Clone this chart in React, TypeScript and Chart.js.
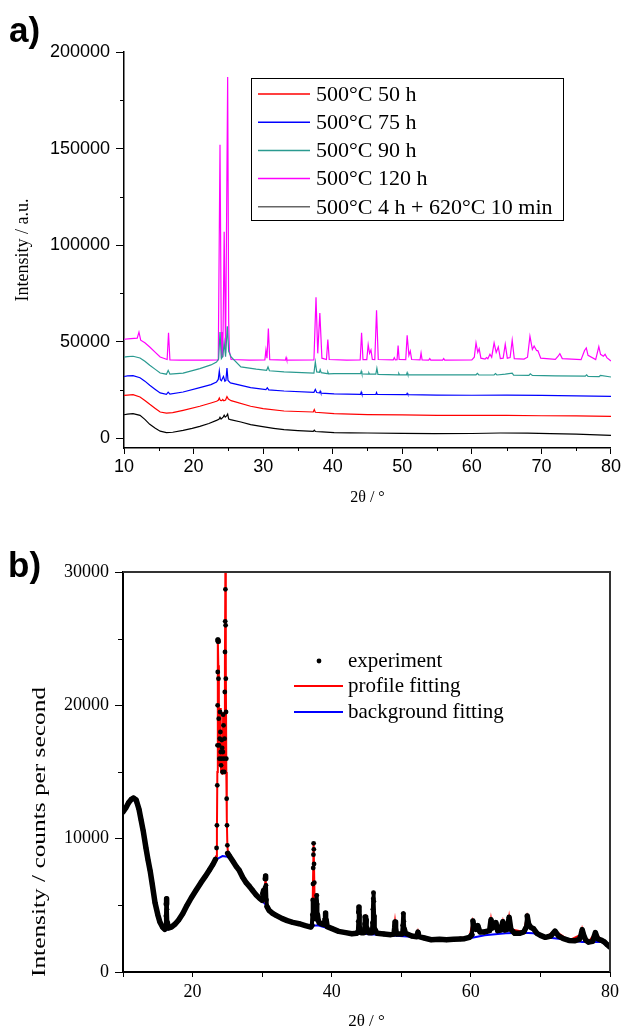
import React, { useEffect, useRef } from "react";
import { Chart, registerables } from "chart.js";
Chart.register(...registerables);

type P = [number, number];

// ---------- Panel a) ----------
const A_LABELS = ["500°C 50 h", "500°C 75 h", "500°C 90 h", "500°C 120 h", "500°C 4 h + 620°C 10 min"];
const A_COLORS = ["#ff0000", "#0000ff", "#2a9a90", "#ff00ff", "#000000"];
const A_Y_TICKS = [0, 50000, 100000, 150000, 200000];
const A_X_MINOR = [15, 25, 35, 45, 55, 65, 75];
const A_Y_MINOR = [25000, 75000, 125000, 175000];

const A_50H: P[] = [[10,22200],[10.5,22400],[11.3,22600],[12.3,21400],[13.0,19600],[13.7,17600],[14.5,15500],[15.2,13640],[16.1,13100],[17.0,13300],[18.5,14500],[20.9,16600],[22.5,18300],[23.3,19200],[23.55,19700],[23.7,20900],[23.85,19600],[24.05,19500],[24.2,20100],[24.35,19400],[24.6,19800],[24.8,21600],[25.0,20300],[25.4,19500],[28.2,16600],[30.0,15400],[33.0,14150],[35.0,13900],[37.2,13640],[37.35,14900],[37.5,13500],[40.2,12800],[45.0,12300],[50.0,12100],[55.0,11900],[60.0,11900],[65.0,11900],[70.0,11700],[75.0,11600],[80.0,11400]];

const A_75H: P[] = [[10,32000],[10.5,32300],[11.3,32500],[12.3,31400],[13.0,29600],[13.7,27450],[14.5,25300],[15.2,23500],[16.1,22800],[16.35,23900],[16.6,22900],[18.5,24000],[20.9,26250],[22.5,27800],[23.3,29200],[23.55,30500],[23.7,34900],[23.85,30300],[24.0,29800],[24.3,32100],[24.5,29600],[24.65,30000],[24.8,36400],[24.95,30000],[25.3,28700],[28.2,26250],[30.4,25200],[30.6,26200],[30.8,25100],[33.0,24500],[37.3,23800],[37.5,25300],[37.7,23700],[38.1,23500],[38.2,24400],[38.3,23400],[40.2,23000],[44.0,22800],[44.1,23900],[44.2,22800],[46.2,22700],[46.3,23700],[46.4,22700],[50.0,22600],[50.6,22600],[50.7,23300],[50.8,22600],[55.0,22400],[60.0,22300],[65.0,22400],[70.0,22200],[75.0,22000],[80.0,21700]];

const A_90H: P[] = [[10,42000],[10.5,42300],[11.3,42500],[12.3,41600],[13.0,39900],[13.7,37800],[14.5,35700],[15.2,33800],[16.1,33200],[16.35,35200],[16.6,33200],[18.5,33800],[20.9,36100],[22.5,38000],[23.3,39500],[23.6,41000],[23.8,55000],[24.0,41300],[24.2,42500],[24.4,49400],[24.6,42300],[24.85,58000],[25.05,45000],[25.4,42100],[26.8,36950],[29.0,35800],[30.5,35200],[30.7,36950],[30.9,35000],[33.0,34400],[37.3,33800],[37.5,39500],[37.7,34400],[38.1,34200],[38.2,35500],[38.35,34000],[39.2,33500],[39.3,34300],[39.4,33400],[40.2,33500],[44.0,33500],[44.1,34700],[44.2,33300],[45.1,33200],[45.2,33900],[45.3,33200],[46.2,33200],[46.35,36300],[46.5,33100],[49.4,32900],[49.5,33600],[49.6,32900],[50.6,32900],[50.7,34000],[50.8,32900],[55.0,32900],[60.6,32900],[60.8,33600],[61.0,32800],[63.2,32800],[63.4,33500],[63.6,32800],[64.8,33200],[65.8,33700],[66.0,32700],[68.2,32600],[68.4,33400],[68.7,32600],[72.0,32300],[76.3,32200],[76.5,32900],[76.7,32100],[78.3,32000],[78.5,32600],[80.0,31750]];

const A_120H: P[] = [[10,51300],[11,51600],[11.9,51900],[12.15,55000],[12.4,50800],[13.0,49500],[13.7,47300],[14.5,44500],[15.2,42100],[16.2,40800],[16.4,54700],[16.6,40600],[18,40500],[20,40500],[22,40500],[23.55,40600],[23.8,152000],[24.0,41500],[24.1,55000],[24.2,42000],[24.4,107000],[24.6,44000],[24.9,187000],[25.05,60000],[25.15,45000],[25.4,40800],[28,40500],[30.25,40600],[30.4,45700],[30.55,41500],[30.75,56800],[30.95,40700],[33.2,40500],[33.3,41800],[33.4,40500],[37.3,40600],[37.6,73000],[37.85,44000],[38.15,64900],[38.45,41500],[39.1,40800],[39.3,51100],[39.5,40800],[42,40500],[43.95,40600],[44.15,54700],[44.35,40800],[44.9,40800],[45.1,48500],[45.3,44000],[45.5,45700],[45.7,40800],[46.05,40700],[46.3,66300],[46.55,40800],[48.7,40600],[48.85,41800],[49.0,40600],[49.25,40700],[49.4,48000],[49.55,40900],[50.5,40800],[50.7,53400],[50.95,43000],[51.15,45200],[51.35,40800],[52.55,40600],[52.7,44200],[52.85,40600],[53.8,40500],[53.95,41300],[54.1,40500],[55.8,40500],[55.95,41300],[56.1,40500],[60.0,40600],[60.35,42000],[60.6,49400],[60.85,44500],[61.05,46400],[61.3,41500],[61.9,41000],[62.1,41800],[62.3,41200],[62.6,43500],[62.85,42000],[63.2,49400],[63.5,44500],[63.8,47300],[64.1,41300],[64.5,41500],[64.8,48700],[65.1,41500],[65.5,41800],[65.8,50800],[66.1,41300],[67.5,41000],[68.0,42000],[68.35,52800],[68.7,46000],[68.95,47800],[69.3,45500],[69.5,45300],[69.9,41500],[72.0,40900],[72.4,42500],[72.65,43800],[73.0,41300],[75.7,40700],[76.2,45500],[76.45,46800],[76.7,43000],[77.8,40800],[78.25,47500],[78.5,43500],[78.9,42500],[79.15,43500],[79.4,41800],[80.0,40000]];

const A_620C: P[] = [[10,12200],[10.5,12500],[11.3,12800],[12.3,11900],[13.0,9800],[13.7,7250],[14.5,5200],[15.2,3700],[16.1,3000],[17.0,3150],[18.5,4140],[19.8,5200],[20.9,6200],[22.2,7700],[23.3,9300],[23.65,9900],[23.8,10900],[23.95,10000],[24.25,11000],[24.4,12000],[24.55,11000],[24.75,11600],[24.9,12500],[25.05,10000],[25.3,9700],[26.8,8460],[28.2,7100],[29.7,6200],[31.5,5200],[33.0,4480],[35.0,4000],[37.2,3600],[37.35,4200],[37.5,3550],[38.5,3300],[40.2,2940],[42.5,2850],[45.0,2760],[50.0,2600],[54.6,2420],[60.0,2500],[64.1,2760],[68.0,2700],[71.3,2420],[75.0,2200],[80.0,1550]];

// ---------- Panel b) ----------
const B_LABELS = ["experiment", "profile fitting", "background fitting"];
const B_Y_MINOR = [5000, 15000, 25000];

const B_EXP: P[] = [[10.0,12000],[10.4,12300],[10.8,12700],[11.2,12950],[11.5,13050],[11.9,12900],[12.3,12200],[12.6,11400],[12.9,10600],[13.3,9300],[13.6,8400],[13.9,7600],[14.2,6600],[14.6,5200],[15.0,4300],[15.3,3750],[15.7,3350],[16.0,3200],
[16.1,3300],[16.17,4200],[16.22,5100],[16.27,5500],[16.32,4700],[16.38,3700],[16.5,3300],
[16.95,3370],[17.5,3600],[18.0,3900],[18.6,4380],[19.2,5000],[19.8,5550],[20.5,6130],[21.2,6700],[21.8,7150],[22.4,7630],[22.9,8050],[23.3,8450],
[23.45,9300],[23.5,11000],[23.55,14000],[23.58,17000],[23.6,20000],[23.62,22500],[23.65,24900],[23.68,24800],[23.72,22000],[23.76,19000],[23.8,17000],[23.85,16000],[23.9,17500],[23.95,19500],[24.0,18000],[24.05,16500],[24.1,15500],[24.15,16000],[24.2,17400],[24.25,16800],[24.3,15000],[24.35,16500],[24.4,19300],[24.45,18500],[24.5,16000],[24.55,15000],[24.6,17500],[24.63,21000],[24.66,24000],[24.69,26300],[24.72,28700],[24.75,26000],[24.78,22000],[24.81,19500],[24.85,16000],[24.9,13000],[24.95,11000],[25.0,9500],[25.05,8900],
[25.3,8700],[25.8,8300],[26.3,7900],[26.7,7630],[27.2,7100],[27.7,6700],[28.2,6400],[28.6,6130],[29.1,5800],[29.6,5550],[30.0,5380],
[30.1,5900],[30.2,6100],[30.3,5600],[30.4,6300],[30.45,7000],[30.5,7200],[30.55,6500],[30.62,5400],[30.7,4900],
[31.0,4620],[31.5,4400],[32.0,4250],[32.9,4000],[33.6,3850],[34.4,3720],[35.3,3620],[36.2,3480],[37.0,3370],
[37.15,3500],[37.22,4300],[37.27,5400],[37.31,6600],[37.34,7800],[37.37,8800],[37.4,9650],[37.43,9200],[37.46,8100],[37.5,6700],[37.55,5200],[37.6,4400],[37.68,4000],[37.75,4600],[37.8,5300],[37.85,5750],[37.9,5100],[37.95,4300],[38.05,3900],[38.2,3700],[38.6,3600],
[38.95,3550],[39.05,4000],[39.12,4420],[39.2,3900],[39.35,3400],
[40.05,3250],[41.0,3050],[42.0,2950],[42.9,2870],[43.6,2900],
[43.75,3000],[43.82,3800],[43.88,4500],[43.92,4870],[43.97,4300],[44.05,3300],[44.2,2950],
[44.6,2950],[44.72,3600],[44.8,4120],[44.88,3700],[44.95,3900],[45.05,3300],[45.3,2950],
[45.75,2950],[45.85,3700],[45.92,4700],[45.97,5500],[46.0,5950],[46.05,5300],[46.1,4200],[46.2,3200],[46.5,2900],
[47.5,2850],[48.5,2800],
[48.95,2850],[49.05,3300],[49.1,3750],[49.18,3300],[49.3,2850],
[50.1,2850],[50.2,3500],[50.28,4380],[50.36,3800],[50.45,3200],[50.6,2900],
[51.5,2700],[52.25,2650],[52.4,2990],[52.55,2650],[53.3,2550],[54.3,2420],[55.5,2450],[56.5,2420],[57.5,2450],[58.5,2480],[59.1,2500],[59.8,2600],
[60.15,2800],[60.3,3820],[60.45,3300],[60.7,3200],[61.0,3480],[61.3,3000],[61.9,3000],
[62.7,3100],[62.9,3920],[63.1,3300],[63.6,3700],[63.85,3100],[64.3,3150],[64.6,3770],[64.85,3150],[65.25,3200],[65.5,4100],[65.75,3200],[66.3,2900],[67.0,2900],[67.6,3000],
[67.9,3300],[68.1,4200],[68.3,3600],[68.6,3350],[69.0,3250],[69.5,2900],[70.0,2750],[70.7,2600],[71.5,2700],[72.1,3070],[72.6,2700],[73.3,2500],[74.1,2370],[75.0,2350],[75.6,2450],
[75.85,2800],[76.0,3170],[76.2,2800],[76.5,2400],[76.9,2240],[77.5,2300],[77.9,2950],[78.2,2500],[78.8,2370],[79.2,2250],[79.6,2050],[80.0,1870]];

const B_FIT: P[] = [[10,12000],[11.5,13050],[12.3,12200],[13.3,9300],[14.6,5200],[15.3,3750],[16.0,3200],[16.12,3400],[16.22,5200],[16.27,5500],[16.34,4300],[16.45,3300],[17.5,3600],[19.2,5000],[21.2,6700],[22.9,8050],[23.4,8700],[23.5,10500],[23.56,15000],[23.61,21000],[23.65,25000],[23.7,23000],[23.78,17000],[23.85,15500],[23.95,19800],[24.05,15500],[24.12,15000],[24.2,17600],[24.28,14800],[24.4,19500],[24.5,15500],[24.58,15000],[24.65,23000],[24.72,31000],[24.78,23000],[24.85,15000],[24.92,11500],[25.0,9500],[25.1,8900],[26.7,7630],[28.6,6130],[30.0,5380],[30.12,5950],[30.25,5600],[30.4,6300],[30.5,7250],[30.6,5700],[30.75,4800],[31.5,4400],[33.6,3850],[36.2,3480],[37.1,3400],[37.25,4800],[37.4,9750],[37.55,5000],[37.7,4100],[37.85,5850],[38.0,4100],[38.6,3600],[39.0,3550],[39.12,4450],[39.25,3500],[40.05,3250],[42.9,2870],[43.75,3000],[43.92,4900],[44.1,3000],[44.6,2950],[44.8,4150],[44.88,3700],[44.95,3900],[45.15,3000],[45.75,2950],[46.0,6000],[46.25,2950],[48.9,2800],[49.1,3780],[49.3,2850],[50.1,2850],[50.28,4400],[50.5,3000],[52.25,2650],[52.4,3000],[52.55,2650],[54.3,2420],[59.8,2600],[60.3,3850],[60.7,3200],[61.0,3500],[61.3,3000],[62.7,3100],[62.9,3950],[63.1,3300],[63.6,3700],[63.85,3100],[64.3,3150],[64.6,3800],[64.85,3150],[65.25,3200],[65.5,4100],[65.75,3200],[67.6,3000],[68.1,4200],[68.6,3350],[69.5,2900],[70.7,2600],[72.1,3070],[74.1,2370],[75.85,2800],[76.0,3200],[76.2,2800],[76.9,2240],[77.9,2950],[78.8,2370],[80,1870]];

const B_BG: P[] = [[10,12000],[10.8,12700],[11.5,13000],[12.3,12200],[12.9,10600],[13.6,8400],[14.2,6600],[15.0,4300],[15.7,3300],[16.2,3150],[17.0,3350],[18.0,3900],[19.2,5000],[20.5,6130],[21.8,7150],[22.9,8050],[23.6,8500],[24.3,8700],[25.0,8650],[25.8,8300],[26.7,7630],[27.7,6700],[28.6,6130],[29.6,5550],[30.5,5050],[31.0,4600],[32.0,4250],[33.6,3850],[35.3,3620],[37.0,3450],[38.0,3500],[39.0,3350],[40.05,3200],[42.9,2870],[45.0,2850],[48.0,2750],[51.5,2650],[54.3,2400],[57.5,2430],[60.0,2550],[62.0,2750],[65.0,2900],[67.5,2950],[69.0,2900],[70.7,2600],[73.3,2450],[76.0,2250],[78.8,2250],[80.0,1800]];

const toXY = (p: P[]) => p.map(([x, y]) => ({ x, y }));

const SANS = '"Liberation Sans", Arial, sans-serif';
const SERIF = '"Liberation Serif", "Times New Roman", serif';

function ChartA() {
  const ref = useRef<HTMLCanvasElement>(null);
  useEffect(() => {
    const series = [A_50H, A_75H, A_90H, A_120H, A_620C];
    const deco = {
      id: "decoA",
      afterDraw(chart: any) {
        const { ctx, chartArea: ca, scales } = chart;
        ctx.save();
        ctx.strokeStyle = "#000";
        ctx.lineWidth = 1;
        ctx.beginPath();
        A_Y_MINOR.forEach((v) => {
          const y = Math.round(scales.y.getPixelForValue(v)) + 0.5;
          ctx.moveTo(ca.left - 4, y);
          ctx.lineTo(ca.left, y);
        });
        A_X_MINOR.forEach((v) => {
          const x = Math.round(scales.x.getPixelForValue(v)) + 0.5;
          ctx.moveTo(x, ca.bottom);
          ctx.lineTo(x, ca.bottom + 3);
        });
        ctx.stroke();
        // legend
        ctx.fillStyle = "#fff";
        ctx.fillRect(251, 78, 312, 142);
        ctx.strokeStyle = "#000";
        ctx.lineWidth = 1;
        ctx.strokeRect(251.5, 78.5, 312, 142);
        ctx.font = `22px ${SERIF}`;
        ctx.textBaseline = "middle";
        A_LABELS.forEach((t, i) => {
          const y = 94 + i * 28.2;
          ctx.strokeStyle = i === 4 ? "#666" : A_COLORS[i];
          ctx.lineWidth = 1.5;
          ctx.beginPath();
          ctx.moveTo(258, y);
          ctx.lineTo(310, y);
          ctx.stroke();
          ctx.fillStyle = "#000";
          ctx.fillText(t, 316, y + 1);
        });
        ctx.font = `bold 35px ${SANS}`;
        ctx.textBaseline = "alphabetic";
        ctx.fillStyle = "#000";
        ctx.fillText("a)", 9, 42);
        ctx.restore();
      },
    };
    const chart = new Chart(ref.current!, {
      type: "line",
      data: {
        datasets: series.map((s, i) => ({
          label: A_LABELS[i],
          data: toXY(s),
          borderColor: A_COLORS[i],
          borderWidth: 1.2,
          pointRadius: 0,
        })),
      },
      options: {
        animation: false,
        responsive: false,
        events: [],
        layout: { padding: { top: 52, right: 11, left: 0, bottom: 0 } },
        plugins: { legend: { display: false }, tooltip: { enabled: false } },
        scales: {
          x: {
            type: "linear",
            min: 10,
            max: 80,
            afterFit: (s: any) => { s.height = 72; },
            ticks: { stepSize: 10, autoSkip: false, maxRotation: 0, padding: 2, color: "#000", font: { family: SANS, size: 18 }, callback: (v: any) => String(v) },
            grid: { drawOnChartArea: false, tickLength: 6, tickColor: "#000", tickWidth: 1 },
            border: { color: "#000", width: 1.5 },
            title: { display: true, text: "2θ / °", color: "#000", font: { family: SERIF, size: 16 }, padding: { top: 0, bottom: 13 } },
          },
          y: {
            type: "linear",
            min: -5000,
            max: 200000,
            afterFit: (s: any) => { s.width = 124; },
            afterBuildTicks: (s: any) => { s.ticks = A_Y_TICKS.map((value) => ({ value })); },
            ticks: { autoSkip: false, padding: 6, color: "#000", font: { family: SANS, size: 18 }, callback: (v: any) => String(v) },
            grid: { drawOnChartArea: false, tickLength: 8, tickColor: "#000", tickWidth: 1 },
            border: { color: "#000", width: 1.5 },
            title: { display: true, text: "Intensity / a.u.", color: "#000", font: { family: SERIF, size: 18 }, padding: { top: 12, bottom: 0 } },
          },
        },
      } as any,
      plugins: [deco],
    });
    return () => chart.destroy();
  }, []);
  return <canvas ref={ref} width={623} height={520} style={{ position: "absolute", left: 0, top: 0 }} />;
}

function ChartB() {
  const ref = useRef<HTMLCanvasElement>(null);
  useEffect(() => {
    const deco = {
      id: "decoB",
      afterDraw(chart: any) {
        const { ctx, chartArea: ca, scales } = chart;
        ctx.save();
        // frame top/right
        ctx.strokeStyle = "#333";
        ctx.lineWidth = 2;
        ctx.beginPath();
        ctx.moveTo(ca.left, ca.top);
        ctx.lineTo(ca.right, ca.top);
        ctx.lineTo(ca.right, ca.bottom);
        ctx.stroke();
        // minor ticks
        ctx.strokeStyle = "#000";
        ctx.lineWidth = 1;
        ctx.beginPath();
        B_Y_MINOR.forEach((v) => {
          const y = Math.round(scales.y.getPixelForValue(v)) + 0.5;
          ctx.moveTo(ca.left - 5, y);
          ctx.lineTo(ca.left, y);
        });
        ctx.stroke();
        // legend
        ctx.font = `21px ${SERIF}`;
        ctx.textBaseline = "middle";
        ctx.fillStyle = "#000";
        ctx.beginPath();
        ctx.arc(319, 141, 2.4, 0, Math.PI * 2);
        ctx.fill();
        ctx.lineWidth = 2;
        ctx.strokeStyle = "#ff0000";
        ctx.beginPath();
        ctx.moveTo(294, 166);
        ctx.lineTo(343, 166);
        ctx.stroke();
        ctx.strokeStyle = "#0000ff";
        ctx.beginPath();
        ctx.moveTo(294, 192);
        ctx.lineTo(343, 192);
        ctx.stroke();
        B_LABELS.forEach((t, i) => ctx.fillText(t, 348, 141 + i * 25.6));
        // y title (slightly stretched like the reference)
        const yt = "Intensity / counts per second";
        ctx.font = `19px ${SERIF}`;
        const w = ctx.measureText(yt).width;
        ctx.translate(40, 312);
        ctx.rotate(-Math.PI / 2);
        ctx.scale(290 / w, 1);
        ctx.textAlign = "center";
        ctx.fillText(yt, 0, 0);
        ctx.setTransform(1, 0, 0, 1, 0, 0);
        ctx.textAlign = "left";
        ctx.textBaseline = "alphabetic";
        ctx.font = `bold 35px ${SANS}`;
        ctx.fillText("b)", 8, 57);
        ctx.restore();
      },
    };
    const chart = new Chart(ref.current!, {
      type: "line",
      data: {
        datasets: [
          {
            label: B_LABELS[0],
            data: toXY(B_EXP),
            borderColor: "#000",
            borderWidth: 5.5,
            borderJoinStyle: "round",
            borderCapStyle: "round",
            pointRadius: 2.4,
            pointBorderWidth: 0,
            pointBackgroundColor: "#000",
            segment: {
              borderColor: (c: any) => {
                const dx = Math.abs(c.p1.x - c.p0.x);
                const dy = Math.abs(c.p1.y - c.p0.y);
                const high = Math.max(c.p0.parsed.y, c.p1.parsed.y) > 6500;
                return high && dy > 6 && dy > 8 * dx ? "rgba(0,0,0,0)" : "#000";
              },
              borderWidth: (c: any) => {
                const dx = Math.abs(c.p1.x - c.p0.x);
                const dy = Math.abs(c.p1.y - c.p0.y);
                return dy > 6 && dy > 8 * dx ? 4 : 5.5;
              },
            },
          },
          { label: B_LABELS[1], data: toXY(B_FIT), borderColor: "#ff0000", borderWidth: 2, pointRadius: 0 },
          { label: B_LABELS[2], data: toXY(B_BG), borderColor: "#0000ff", borderWidth: 2, pointRadius: 0 },
        ],
      },
      options: {
        animation: false,
        responsive: false,
        events: [],
        layout: { padding: { top: 52, right: 11, left: 0, bottom: 0 } },
        plugins: { legend: { display: false }, tooltip: { enabled: false } },
        scales: {
          x: {
            type: "linear",
            min: 10,
            max: 80,
            afterFit: (s: any) => { s.height = 60; },
            ticks: { stepSize: 10, autoSkip: false, maxRotation: 0, padding: 4, color: "#000", font: { family: SERIF, size: 18 }, callback: (v: any) => (v % 20 === 0 ? String(v) : "") },
            grid: { drawOnChartArea: false, tickLength: 5, tickColor: "#000", tickWidth: 1 },
            border: { color: "#000", width: 2 },
            title: { display: true, text: "2θ / °", color: "#000", font: { family: SERIF, size: 17 }, padding: { top: 0, bottom: 0 } },
          },
          y: {
            type: "linear",
            min: 0,
            max: 30000,
            afterFit: (s: any) => { s.width = 123; },
            ticks: { stepSize: 10000, autoSkip: false, padding: 6, color: "#000", font: { family: SERIF, size: 18 }, callback: (v: any) => String(v) },
            grid: { drawOnChartArea: false, tickLength: 8, tickColor: "#000", tickWidth: 1 },
            border: { color: "#000", width: 2 },
          },
        },
      } as any,
      plugins: [deco],
    });
    return () => chart.destroy();
  }, []);
  return <canvas ref={ref} width={623} height={512} style={{ position: "absolute", left: 0, top: 520 }} />;
}

export default function App() {
  return (
    <div style={{ position: "absolute", left: 0, top: 0, width: 623, height: 1032, background: "#fff" }}>
      <ChartA />
      <ChartB />
    </div>
  );
}
